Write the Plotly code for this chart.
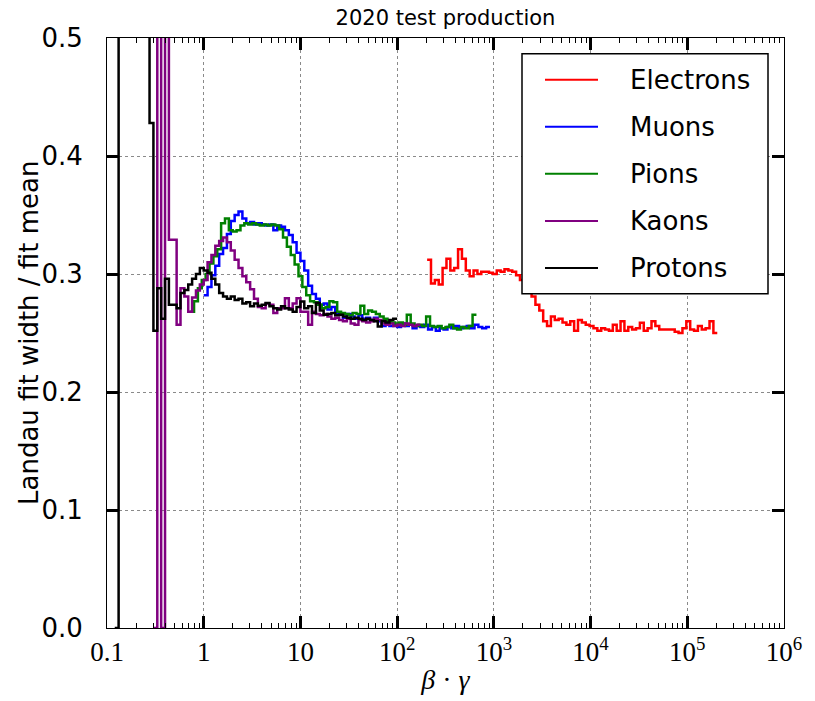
import plotly.graph_objects as go

# ---------------- data ----------------
BIN_W = 0.04  # bin width in decades of beta*gamma

electron_start = 2.31
electron_vals = [0.312, 0.292, 0.295, 0.291, 0.305, 0.313, 0.303, 0.305, 0.321, 0.313,
                 0.303, 0.298, 0.303, 0.300, 0.302, 0.302, 0.301, 0.300, 0.303, 0.302,
                 0.304, 0.303, 0.302, 0.299, 0.295, 0.290, 0.285, 0.281, 0.274, 0.269,
                 0.260, 0.256, 0.264, 0.261, 0.262, 0.259, 0.257, 0.260, 0.252, 0.261,
                 0.259, 0.257, 0.256, 0.254, 0.252, 0.254, 0.253, 0.252, 0.257, 0.252,
                 0.260, 0.252, 0.255, 0.253, 0.254, 0.2586, 0.252, 0.254, 0.260, 0.256,
                 0.253, 0.253, 0.253, 0.253, 0.251, 0.250, 0.254, 0.260, 0.253, 0.252,
                 0.256, 0.253, 0.254, 0.260, 0.250]

muon_start = 0.0
muon_vals = [0.282, 0.289, 0.299, 0.307, 0.317, 0.322, 0.334, 0.345, 0.350, 0.353,
             0.347, 0.343, 0.344, 0.342, 0.343, 0.342, 0.341, 0.342, 0.337, 0.341,
             0.340, 0.337, 0.333, 0.327, 0.318, 0.311, 0.303, 0.290, 0.283, 0.279,
             0.274, 0.275, 0.270, 0.272, 0.267, 0.266, 0.263, 0.266, 0.264, 0.262,
             0.265, 0.262, 0.263, 0.261, 0.263, 0.260, 0.256, 0.258, 0.256, 0.257,
             0.255, 0.258, 0.256, 0.257, 0.254, 0.256, 0.255, 0.257, 0.253, 0.255,
             0.252, 0.254, 0.253, 0.255, 0.254, 0.256, 0.254, 0.255, 0.256, 0.254,
             0.257, 0.255, 0.254, 0.255]

pion_start = -0.14
pion_vals = [0.268, 0.277, 0.288, 0.295, 0.300, 0.309, 0.315, 0.321, 0.343, 0.347,
             0.337, 0.336, 0.337, 0.341, 0.343, 0.342, 0.343, 0.342, 0.341, 0.342,
             0.341, 0.342, 0.341, 0.338, 0.331, 0.323, 0.316, 0.308, 0.298, 0.289,
             0.282, 0.277, 0.276, 0.274, 0.271, 0.272, 0.277, 0.276, 0.268, 0.267,
             0.266, 0.265, 0.267, 0.266, 0.273, 0.266, 0.269, 0.268, 0.266, 0.264,
             0.262, 0.260, 0.259, 0.258, 0.259, 0.257, 0.2655, 0.258, 0.256, 0.257,
             0.256, 0.264, 0.256, 0.255, 0.256, 0.254, 0.255, 0.257, 0.254, 0.253,
             0.255, 0.254, 0.256, 0.2655]

kaon_start = -0.52
kaon_vals = [0.0, 1.0, 0.0, 1.0, 0.329, 0.329, 0.257, 0.288, 0.281,
             0.268, 0.280, 0.286, 0.291, 0.295, 0.310, 0.316, 0.324, 0.328, 0.331,
             0.327, 0.320, 0.312, 0.305, 0.298, 0.293, 0.287, 0.279, 0.272, 0.271,
             0.275, 0.274, 0.267, 0.271, 0.271, 0.2795, 0.271, 0.275, 0.2795, 0.268,
             0.268, 0.257, 0.268, 0.266, 0.265, 0.266, 0.264, 0.262, 0.263, 0.261,
             0.260, 0.262, 0.258, 0.257, 0.261, 0.260, 0.259, 0.260, 0.262, 0.261,
             0.258, 0.257, 0.258, 0.256, 0.257, 0.256, 0.258, 0.257, 0.256, 0.257]

proton_start = -0.92
proton_vals = [0.0, 1.0, 1.0, 1.0, 1.0, 1.0, 1.0, 1.0, 1.0, 0.428,
               0.252, 0.288, 0.262, 0.296, 0.274, 0.274, 0.271, 0.284, 0.2865, 0.291,
               0.296, 0.300, 0.305, 0.303, 0.301, 0.296, 0.291, 0.284, 0.281, 0.279,
               0.281, 0.278, 0.279, 0.275, 0.276, 0.2726, 0.275, 0.273, 0.274, 0.2755,
               0.2726, 0.271, 0.270, 0.2726, 0.271, 0.270, 0.268, 0.272, 0.2768, 0.271,
               0.2726, 0.267, 0.2755, 0.269, 0.2655, 0.266, 0.267, 0.265, 0.2655, 0.264,
               0.263, 0.262, 0.263, 0.262, 0.261, 0.262, 0.261, 0.260, 0.2555, 0.260,
               0.259, 0.261, 0.262]

names = ["Electrons", "Muons", "Pions", "Kaons", "Protons"]
colors = ["#ff0000", "#0000ff", "#008000", "#800080", "#000000"]
starts = [electron_start, muon_start, pion_start, kaon_start, proton_start]
series = [electron_vals, muon_vals, pion_vals, kaon_vals, proton_vals]

x_tickvals = [0.1, 1, 10, 1e2, 1e3, 1e4, 1e5, 1e6]
x_ticktext = ["0.1", "1", "10", "10<sup>2</sup>", "10<sup>3</sup>",
              "10<sup>4</sup>", "10<sup>5</sup>", "10<sup>6</sup>"]
y_tickvals = [0.0, 0.1, 0.2, 0.3, 0.4, 0.5]
y_ticktext = ["0.0", "0.1", "0.2", "0.3", "0.4", "0.5"]

# ---------------- figure ----------------
W, H = 815, 701
ML, MR, MT, MB = 107, 31, 38, 68
PW, PH = W - ML - MR, H - MT - MB


def px_x(p):  # pixel -> paper x
    return (p - ML) / PW


def px_y(p):  # pixel -> paper y
    return (H - MB - p) / PH


fig = go.Figure()
for name, col, s0, vals in zip(names, colors, starts, series):
    edges = [10 ** (s0 + BIN_W * i) for i in range(len(vals) + 1)]
    fig.add_trace(go.Scatter(
        x=edges, y=list(vals) + [vals[-1]], mode="lines", name=name,
        line=dict(color=col, width=2.5, shape="hv"),
        showlegend=False,
    ))

# legend box drawn in the matplotlib style (long line samples, wide gap)
shapes = [dict(type="rect", xref="paper", yref="paper",
               x0=px_x(522), x1=px_x(768), y0=px_y(296), y1=px_y(54),
               fillcolor="white", line=dict(color="black", width=1.5), layer="above")]
annotations = []
for k, (name, col) in enumerate(zip(names, colors)):
    yy = px_y(80 + 47.5 * k)
    shapes.append(dict(type="line", xref="paper", yref="paper",
                       x0=px_x(545), x1=px_x(598), y0=yy, y1=yy,
                       line=dict(color=col, width=2), layer="above"))
    annotations.append(dict(text=name, xref="paper", yref="paper", x=px_x(628), y=yy,
                            xanchor="left", yanchor="middle", showarrow=False,
                            font=dict(family="DejaVu Sans", size=26, color="black")))

annotations.append(dict(text="Landau fit width / fit mean", xref="paper", yref="paper",
                        x=px_x(12), y=0.5, xanchor="left", yanchor="middle", textangle=-90,
                        showarrow=False, font=dict(family="DejaVu Sans", size=26, color="black")))

minor_vals = [k * 10 ** n for n in range(-1, 6) for k in range(2, 10)]

fig.update_layout(
    width=W, height=H,
    margin=dict(l=ML, r=MR, t=MT, b=MB),
    paper_bgcolor="white", plot_bgcolor="white",
    title=dict(text="2020 test production", x=(ML + PW / 2) / W, xanchor="center",
               y=1 - 18 / H, yanchor="middle",
               font=dict(family="DejaVu Sans", size=21, color="black")),
    font=dict(family="DejaVu Sans", color="black"),
    shapes=shapes, annotations=annotations,
    showlegend=False,
)

fig.update_xaxes(
    type="log", range=[-1, 6],
    tickvals=x_tickvals, ticktext=x_ticktext,
    tickfont=dict(family="Liberation Serif", size=27, color="black"),
    ticks="inside", ticklen=12, tickwidth=2.5, tickcolor="black",
    minor=dict(tickvals=minor_vals, ticks="inside", ticklen=5, tickwidth=1, tickcolor="black", showgrid=False),
    showline=True, linecolor="black", linewidth=1, mirror="allticks",
    showgrid=True, gridcolor="#8a8a8a", griddash="dot", gridwidth=1,
    zeroline=False,
    title=dict(text="<i>β</i> · <i>γ</i>", font=dict(family="Liberation Serif", size=28, color="black"), standoff=2),
)
fig.update_yaxes(
    range=[0, 0.5],
    tickvals=y_tickvals, ticktext=y_ticktext,
    tickfont=dict(family="DejaVu Sans", size=26, color="black"),
    ticklabelstandoff=18,
    ticks="inside", ticklen=12, tickwidth=2.5, tickcolor="black",
    showline=True, linecolor="black", linewidth=1, mirror="allticks",
    showgrid=True, gridcolor="#8a8a8a", griddash="dot", gridwidth=1,
    zeroline=False,
)

fig.write_html("out.html")
